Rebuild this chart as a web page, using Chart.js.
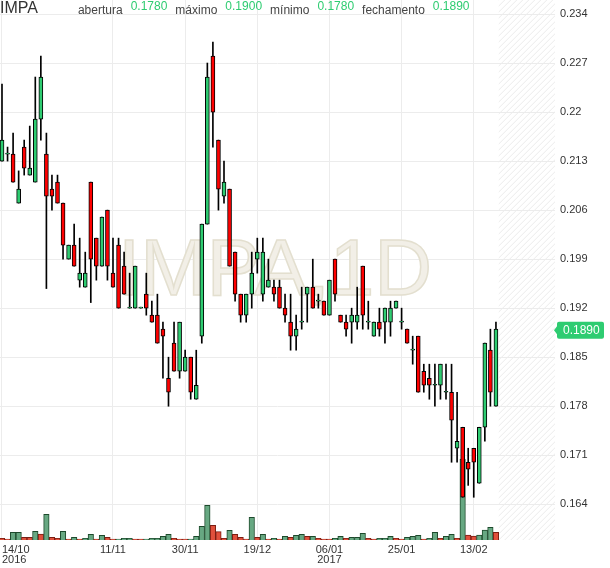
<!DOCTYPE html>
<html>
<head>
<meta charset="utf-8">
<script src="https://cdn.jsdelivr.net/npm/chart.js@4.4.1/dist/chart.umd.min.js"></script>
<style>
  html, body { margin: 0; padding: 0; background: #fff; }
  #wrap { position: relative; width: 610px; height: 568px; overflow: hidden; }
  #chart { position: absolute; left: 0; top: 0; }
  #legend { position: absolute; left: 0; top: 0; display: flex; align-items: baseline; white-space: nowrap;
            font-family: "Liberation Sans", Arial, sans-serif; }
  #legend .sym { font-size: 16px; line-height: 16px; color: #333; margin-right: 40px; }
  #legend .lbl { font-size: 12px; line-height: 12px; color: #444; margin-right: 8px; position: relative; top: 1px; }
  #legend .val { font-size: 12px; line-height: 12px; color: #2ecc71; margin-right: 8px; position: relative; top: -3px; }
</style>
</head>
<body>
<div id="wrap">
  <canvas id="chart" width="610" height="568"></canvas>
  <div id="legend">
    <span class="sym">IMPA</span>
    <span class="lbl">abertura</span><span class="val" id="vOpen"></span>
    <span class="lbl">máximo</span><span class="val" id="vHigh"></span>
    <span class="lbl">mínimo</span><span class="val" id="vLow"></span>
    <span class="lbl">fechamento</span><span class="val" id="vClose"></span>
  </div>
</div>
<script>
// daily candles, 14/10/2016 .. 15/02/2017 (one entry per trading session)
const open  = [0.213,0.214,0.214,0.207,0.215,0.211,0.210,0.219,0.214,0.209,
               0.210,0.207,0.199,0.201,0.196,0.195,0.210,0.202,0.198,0.206,
               0.197,0.201,0.198,0.192,0.192,0.192,0.194,0.191,0.191,0.189,
               0.182,0.187,0.183,0.183,0.185,0.179,0.188,0.204,0.228,0.216,
               0.208,0.209,0.200,0.194,0.191,0.194,0.199,0.194,0.195,0.195,
               0.195,0.192,0.190,0.188,0.190,0.194,0.195,0.193,0.193,0.191,
               0.199,0.191,0.190,0.190,0.190,0.198,0.190,0.188,0.190,0.190,
               0.190,0.192,0.190,0.189,0.186,0.188,0.183,0.182,0.181,0.181,
               0.180,0.180,0.172,0.175,0.170,0.172,0.167,0.175,0.186,0.178];
const high  = [0.224,0.215,0.217,0.2116,0.216,0.218,0.225,0.228,0.217,0.211,
               0.211,0.207,0.201,0.204,0.202,0.200,0.210,0.202,0.205,0.206,
               0.202,0.202,0.200,0.197,0.198,0.192,0.197,0.193,0.194,0.190,
               0.185,0.190,0.190,0.186,0.185,0.186,0.204,0.227,0.230,0.216,
               0.213,0.209,0.200,0.194,0.194,0.200,0.202,0.202,0.199,0.196,
               0.196,0.194,0.194,0.191,0.195,0.195,0.199,0.194,0.193,0.196,
               0.199,0.191,0.191,0.192,0.195,0.198,0.193,0.190,0.192,0.192,
               0.193,0.193,0.192,0.189,0.188,0.188,0.184,0.184,0.184,0.184,
               0.184,0.184,0.180,0.175,0.172,0.172,0.175,0.187,0.189,0.190];
const low   = [0.213,0.213,0.210,0.207,0.211,0.211,0.210,0.216,0.1948,0.206,
               0.207,0.199,0.199,0.198,0.195,0.195,0.1928,0.196,0.198,0.196,
               0.195,0.192,0.194,0.192,0.192,0.192,0.191,0.190,0.187,0.182,
               0.178,0.183,0.182,0.183,0.179,0.179,0.187,0.204,0.215,0.206,
               0.207,0.198,0.193,0.190,0.190,0.192,0.197,0.193,0.195,0.193,
               0.192,0.190,0.186,0.186,0.189,0.190,0.192,0.192,0.191,0.191,
               0.193,0.190,0.188,0.187,0.189,0.189,0.189,0.188,0.188,0.187,
               0.188,0.192,0.189,0.187,0.184,0.180,0.180,0.179,0.178,0.179,
               0.179,0.170,0.170,0.165,0.1667,0.165,0.167,0.173,0.178,0.178];
const close = [0.216,0.214,0.210,0.209,0.212,0.212,0.219,0.225,0.208,0.208,
               0.207,0.201,0.201,0.198,0.197,0.197,0.199,0.198,0.205,0.198,
               0.195,0.192,0.194,0.192,0.198,0.192,0.192,0.190,0.187,0.188,
               0.180,0.183,0.190,0.185,0.180,0.181,0.204,0.225,0.220,0.209,
               0.210,0.198,0.194,0.191,0.194,0.197,0.200,0.200,0.196,0.194,
               0.192,0.191,0.188,0.189,0.190,0.195,0.192,0.193,0.191,0.196,
               0.194,0.190,0.189,0.191,0.191,0.191,0.190,0.190,0.189,0.192,
               0.192,0.193,0.190,0.187,0.186,0.180,0.181,0.181,0.181,0.184,
               0.180,0.176,0.173,0.165,0.169,0.170,0.175,0.187,0.180,0.189];
const volume = [17,3,77,77,27,27,87,60,257,27,
                17,87,3,27,3,17,57,7,47,27,
                7,7,17,17,3,3,7,17,17,37,
                57,17,7,3,7,37,137,347,147,83,
                17,97,57,27,3,227,27,57,7,17,
                7,37,27,47,57,37,37,17,7,7,
                17,37,17,27,27,67,17,3,17,17,
                37,17,7,27,37,47,7,17,77,17,
                37,57,17,810,50,40,50,100,127,77];
const volumeSide = [-1,-1,1,1,-1,-1,1,-1,1,-1,
                    -1,1,-1,1,-1,1,1,-1,1,-1,
                    -1,1,1,1,-1,-1,1,1,1,1,
                    1,-1,-1,-1,1,1,1,1,-1,-1,
                    -1,1,-1,-1,-1,1,-1,1,-1,1,
                    -1,1,-1,1,1,-1,1,-1,-1,-1,
                    1,1,-1,1,1,1,-1,-1,1,1,
                    1,-1,-1,1,1,1,-1,1,1,-1,
                    1,1,-1,1,-1,-1,1,1,1,-1];
const tickIndex = [0, 20, 33, 46, 59, 72, 85];
const tickDate  = ['14/10', '11/11', '30/11', '19/12', '06/01', '25/01', '13/02'];
const tickYear  = ['2016', '', '', '', '2017', '', ''];
const priceTicks = [0.164, 0.171, 0.178, 0.185, 0.192, 0.199, 0.206, 0.213, 0.22, 0.227, 0.234];

const GREEN = '#2ecc71';
const RED = '#ff0000';
const last = close.length - 1;

document.getElementById('vOpen').textContent = open[last].toFixed(4);
document.getElementById('vHigh').textContent = high[last].toFixed(4);
document.getElementById('vLow').textContent = low[last].toFixed(4);
document.getElementById('vClose').textContent = close[last].toFixed(4);

const FONT = '"Liberation Sans", Arial, sans-serif';

const hatch = {
    id: 'hatch',
    beforeDraw(chart) {
        const a = chart.chartArea;
        const x0 = chart.scales.x.getPixelForValue(last + 0.5);
        const ctx = chart.ctx;
        ctx.save();
        ctx.beginPath();
        ctx.rect(x0, a.top, a.right - x0, a.bottom - a.top);
        ctx.clip();
        ctx.strokeStyle = '#ebebeb';
        ctx.lineWidth = 1;
        for (let k = x0 - (a.bottom - a.top); k < a.right; k += 6) {
            ctx.beginPath();
            ctx.moveTo(k, a.bottom);
            ctx.lineTo(k + (a.bottom - a.top), a.top);
            ctx.stroke();
        }
        ctx.restore();
    }
};

const watermark = {
    id: 'watermark',
    beforeDatasetsDraw(chart) {
        const ctx = chart.ctx;
        ctx.save();
        ctx.font = '80px ' + FONT;
        ctx.textAlign = 'center';
        ctx.textBaseline = 'alphabetic';
        ctx.fillStyle = '#f2efe7';
        ctx.strokeStyle = '#e3dfcf';
        ctx.lineWidth = 1.5;
        ctx.fillText('IMPA,1D', 275, 295);
        ctx.strokeText('IMPA,1D', 275, 295);
        ctx.restore();
    }
};

const priceTag = {
    id: 'priceTag',
    afterDraw(chart) {
        const ctx = chart.ctx;
        const a = chart.chartArea;
        const py = chart.scales.y.getPixelForValue(close[last]) + 1;
        const x0 = a.right + 2, x1 = 604, h = 17;
        ctx.save();
        ctx.fillStyle = GREEN;
        ctx.beginPath();
        ctx.moveTo(a.right - 1, py);
        ctx.lineTo(x0, py - 4);
        ctx.lineTo(x0, py - h / 2 + 2);
        ctx.quadraticCurveTo(x0, py - h / 2, x0 + 2, py - h / 2);
        ctx.lineTo(x1 - 2, py - h / 2);
        ctx.quadraticCurveTo(x1, py - h / 2, x1, py - h / 2 + 2);
        ctx.lineTo(x1, py + h / 2 - 2);
        ctx.quadraticCurveTo(x1, py + h / 2, x1 - 2, py + h / 2);
        ctx.lineTo(x0 + 2, py + h / 2);
        ctx.quadraticCurveTo(x0, py + h / 2, x0, py + h / 2 - 2);
        ctx.lineTo(x0, py + 4);
        ctx.closePath();
        ctx.fill();
        ctx.fillStyle = '#fff';
        ctx.font = '12px ' + FONT;
        ctx.textAlign = 'left';
        ctx.textBaseline = 'middle';
        ctx.fillText(close[last].toFixed(4), 563, py + 1);
        ctx.restore();
    }
};

new Chart(document.getElementById('chart'), {
    type: 'bar',
    data: {
        datasets: [
            {
                label: 'wick',
                data: open.map((o, i) => ({ x: i, y: [low[i], high[i]] })),
                backgroundColor: '#000',
                borderWidth: 0,
                barThickness: 1,
                minBarLength: 1,
                grouped: false,
                yAxisID: 'y',
                order: 1
            },
            {
                label: 'body',
                data: open.map((o, i) => ({ x: i, y: [o, close[i]] })),
                backgroundColor: open.map((o, i) => close[i] >= o ? GREEN : RED),
                borderColor: '#000',
                borderWidth: 1,
                borderSkipped: false,
                barThickness: 4,
                minBarLength: 1,
                grouped: false,
                yAxisID: 'y',
                order: 0
            },
            {
                label: 'volume',
                data: volume.map((v, i) => ({ x: i, y: v })),
                backgroundColor: volumeSide.map(s => s > 0 ? '#67a882' : '#e0503c'),
                borderColor: volumeSide.map(s => s > 0 ? '#1d4a2c' : '#7a1d12'),
                borderWidth: 1,
                barThickness: 5.5,
                minBarLength: 1,
                grouped: false,
                yAxisID: 'yVol',
                order: 2
            }
        ]
    },
    options: {
        responsive: false,
        animation: false,
        layout: { padding: 0 },
        plugins: { legend: { display: false }, tooltip: { enabled: false } },
        scales: {
            x: {
                type: 'linear',
                offset: false,
                min: -0.36,
                max: 99.64,
                afterBuildTicks: s => {
                    s.ticks = tickIndex.map(v => ({ value: v })).concat([{ value: 99 }]);
                },
                afterFit: s => { s.height = 28; s.paddingLeft = 0; s.paddingRight = 0; },
                border: { display: false },
                grid: {
                    offset: false,
                    color: c => (c.tick && c.tick.value === 99) ? 'rgba(0,0,0,0)' : '#ececec',
                    drawTicks: false
                },
                ticks: {
                    autoSkip: false,
                    maxRotation: 0,
                    align: 'inner',
                    padding: 5,
                    color: '#333',
                    font: { size: 11, family: FONT, lineHeight: 0.9 },
                    callback: v => {
                        const k = tickIndex.indexOf(v);
                        if (k < 0) return '';
                        return tickYear[k] ? [tickDate[k], tickYear[k]] : tickDate[k];
                    }
                }
            },
            y: {
                position: 'right',
                min: 0.1589,
                max: 0.236,
                afterBuildTicks: s => { s.ticks = priceTicks.map(v => ({ value: v })); },
                afterFit: s => { s.width = 55; s.paddingTop = 0; s.paddingBottom = 0; },
                border: { display: false },
                grid: { color: '#ececec', drawTicks: false },
                ticks: {
                    padding: 5,
                    color: '#333',
                    font: { size: 11, family: FONT },
                    callback: v => String(Number(v.toFixed(3)))
                }
            },
            yVol: {
                display: false,
                min: 0,
                max: Math.max(...volume) / 0.15
            }
        }
    },
    plugins: [hatch, watermark, priceTag]
});
</script>
</body>
</html>
